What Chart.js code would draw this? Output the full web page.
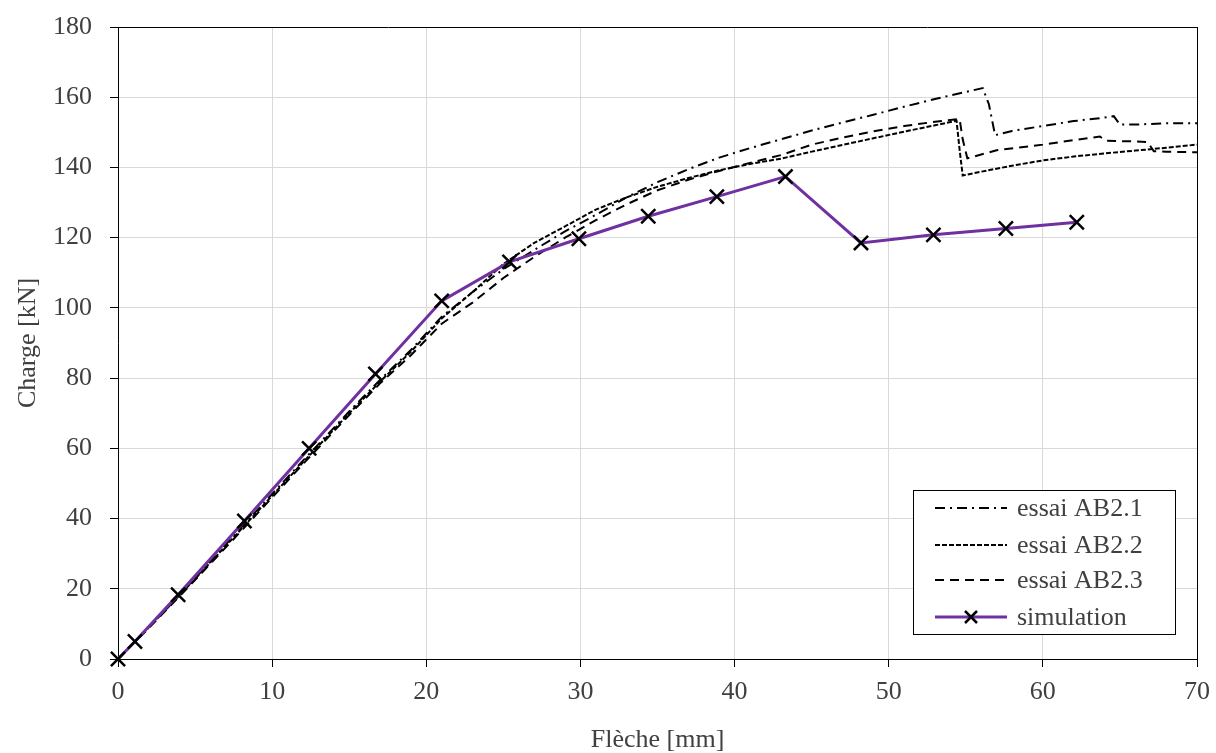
<!DOCTYPE html>
<html>
<head>
    <title>Charge - Flèche</title>
    <script src="https://cdn.jsdelivr.net/npm/chart.js"></script>
    <style>
        body { margin: 0; background: #fff; }
        canvas { display: block; }
    </style>
</head>
<body>
    <canvas id="chargeChart" width="1216" height="753"></canvas>
    <script>
        // données (flèche en mm, charge en kN)
        const ab21X = [0, 2, 5, 8, 10, 12, 15, 17, 19, 21, 23, 25, 27, 29, 31, 33, 35, 37, 39, 41, 43, 45, 47, 49, 51, 53, 55, 56.1, 56.5, 56.9, 58, 60, 62, 64, 64.6, 65, 66, 68, 70];
        const ab21Y = [0, 9, 23, 37.5, 47, 56.5, 70.5, 79.5, 88, 97.5, 104.5, 111, 116.5, 121.8, 126.5, 131.5, 135.8, 139.5, 142.8, 145.5, 148, 150.5, 152.8, 155, 157.3, 159.5, 161.5, 162.6, 158, 149.2, 150.4, 151.8, 153.2, 154.2, 154.6, 152.2, 152.2, 152.6, 152.6];

        const ab22X = [0, 2, 5, 8, 10, 12, 15, 17, 19, 21, 23, 25, 27, 29, 31, 33, 35, 37, 39, 41, 43, 45, 47, 49, 51, 53, 54.4, 54.6, 54.8, 56, 58, 60, 62, 64, 66, 68, 70];
        const ab22Y = [0, 9, 22.8, 37, 46.5, 56, 70, 79, 87.5, 97, 104.5, 112.5, 118.5, 123.2, 128, 131.5, 134.5, 137, 139.2, 141, 142.5, 144.5, 146.4, 148.3, 150.2, 152, 153.3, 145, 137.7, 138.8, 140.5, 142, 143.1, 144, 144.8, 145.6, 146.5];

        const ab23X = [0, 2, 5, 8, 10, 12, 15, 17, 19, 21, 23, 25, 27, 29, 31, 33, 35, 37, 39, 41, 43, 45, 47, 49, 51, 53, 54.6, 54.8, 55.1, 57, 60, 62, 63.7, 64.1, 66, 66.8, 67.2, 68, 70];
        const ab23Y = [0, 8.8, 22.5, 36.5, 46, 55.5, 69.5, 78.5, 86.5, 95.5, 101.5, 108.5, 114.5, 120, 125, 129.5, 133.5, 136.5, 139, 141.3, 143.5, 146.5, 148.5, 150.3, 151.8, 153, 153.8, 148, 142.6, 144.9, 146.5, 147.8, 148.8, 147.6, 147.4, 147.2, 144.6, 144.5, 144.3];

        const simX = [0, 1.1, 3.9, 8.2, 12.4, 16.7, 21.0, 25.4, 29.9, 34.4, 38.85, 43.3, 48.2, 52.9, 57.6, 62.2];
        const simY = [0, 5.0, 18.3, 39.3, 60.0, 81.2, 102.0, 113.1, 119.7, 126.1, 131.7, 137.4, 118.5, 120.8, 122.6, 124.4];

        const seriesLabels = ['essai AB2.1', 'essai AB2.2', 'essai AB2.3', 'simulation'];
        const xTitle = 'Flèche [mm]';
        const yTitle = 'Charge [kN]';

        function points(xs, ys) {
            return xs.map((x, i) => ({ x: x, y: ys[i] }));
        }

        const FONT = '"Liberation Serif", "Times New Roman", serif';
        const TEXT = '#404040';
        const PURPLE = '#7030a0';
        const dashes = [[10, 5, 2, 5], [5, 2], [9, 6]];

        // légende dessinée dans la zone du graphique
        const boxLegend = {
            id: 'boxLegend',
            afterDraw(chart) {
                const c = chart.ctx;
                const left = 913, top = 490, w = 262, h = 144;
                c.save();
                c.fillStyle = '#fff';
                c.fillRect(left, top, w, h);
                c.strokeStyle = '#000';
                c.lineWidth = 1;
                c.strokeRect(left + 0.5, top + 0.5, w, h);
                const rows = [508, 545, 580, 617];
                c.font = '26px ' + FONT;
                c.textBaseline = 'middle';
                rows.forEach((y, i) => {
                    c.beginPath();
                    if (i < 3) {
                        c.setLineDash(dashes[i]);
                        c.strokeStyle = '#000';
                        c.lineWidth = 2;
                    } else {
                        c.setLineDash([]);
                        c.strokeStyle = PURPLE;
                        c.lineWidth = 3;
                    }
                    c.moveTo(935, y);
                    c.lineTo(1007, y);
                    c.stroke();
                    if (i === 3) {
                        c.strokeStyle = '#000';
                        c.lineWidth = 2.5;
                        c.beginPath();
                        c.moveTo(965, y - 6); c.lineTo(977, y + 6);
                        c.moveTo(977, y - 6); c.lineTo(965, y + 6);
                        c.stroke();
                    }
                    c.setLineDash([]);
                    c.fillStyle = TEXT;
                    c.fillText(seriesLabels[i], 1017, y + 1);
                });
                c.restore();
            }
        };

        function zeroPad(scale) {
            scale.paddingLeft = 0;
            scale.paddingRight = 0;
            scale.paddingTop = 0;
            scale.paddingBottom = 0;
        }

        const ctx = document.getElementById('chargeChart').getContext('2d');
        new Chart(ctx, {
            type: 'line',
            data: {
                datasets: [
                    {
                        label: seriesLabels[0],
                        data: points(ab21X, ab21Y),
                        borderColor: '#000',
                        borderWidth: 2,
                        borderDash: dashes[0],
                        pointRadius: 0,
                        tension: 0
                    },
                    {
                        label: seriesLabels[1],
                        data: points(ab22X, ab22Y),
                        borderColor: '#000',
                        borderWidth: 2,
                        borderDash: dashes[1],
                        pointRadius: 0,
                        tension: 0
                    },
                    {
                        label: seriesLabels[2],
                        data: points(ab23X, ab23Y),
                        borderColor: '#000',
                        borderWidth: 2,
                        borderDash: dashes[2],
                        pointRadius: 0,
                        tension: 0
                    },
                    {
                        label: seriesLabels[3],
                        data: points(simX, simY),
                        borderColor: PURPLE,
                        borderWidth: 3,
                        pointStyle: 'crossRot',
                        pointRadius: 10,
                        pointBorderColor: '#000',
                        pointBorderWidth: 2.5,
                        tension: 0,
                        clip: false,
                        order: -1
                    }
                ]
            },
            options: {
                responsive: false,
                animation: false,
                layout: { padding: { top: 27, right: 19, left: 0, bottom: 0 } },
                plugins: {
                    legend: { display: false },
                    tooltip: { enabled: false }
                },
                scales: {
                    x: {
                        type: 'linear',
                        min: 0,
                        max: 70,
                        ticks: {
                            stepSize: 10,
                            color: TEXT,
                            font: { family: FONT, size: 26 },
                            padding: 10,
                            maxRotation: 0
                        },
                        grid: {
                            color: (c) => c.tick && c.tick.value === 70 ? '#000' : '#d9d9d9',
                            tickColor: '#000',
                            tickLength: 8
                        },
                        border: { color: '#000', width: 1 },
                        title: {
                            display: true,
                            text: xTitle,
                            color: TEXT,
                            font: { family: FONT, size: 26, lineHeight: 1 },
                            padding: 0
                        },
                        afterFit(scale) {
                            scale.height = 94;
                            zeroPad(scale);
                        }
                    },
                    y: {
                        min: 0,
                        max: 180,
                        ticks: {
                            stepSize: 20,
                            color: TEXT,
                            font: { family: FONT, size: 26 },
                            padding: 18
                        },
                        grid: {
                            color: (c) => c.tick && c.tick.value === 180 ? '#000' : '#d9d9d9',
                            tickColor: '#000',
                            tickLength: 8
                        },
                        border: { color: '#000', width: 1 },
                        title: {
                            display: true,
                            text: yTitle,
                            color: TEXT,
                            font: { family: FONT, size: 26, lineHeight: 1 },
                            padding: { top: 15, bottom: 0 }
                        },
                        afterFit(scale) {
                            scale.width = 118;
                            zeroPad(scale);
                        }
                    }
                }
            },
            plugins: [boxLegend]
        });
    </script>
</body>
</html>
